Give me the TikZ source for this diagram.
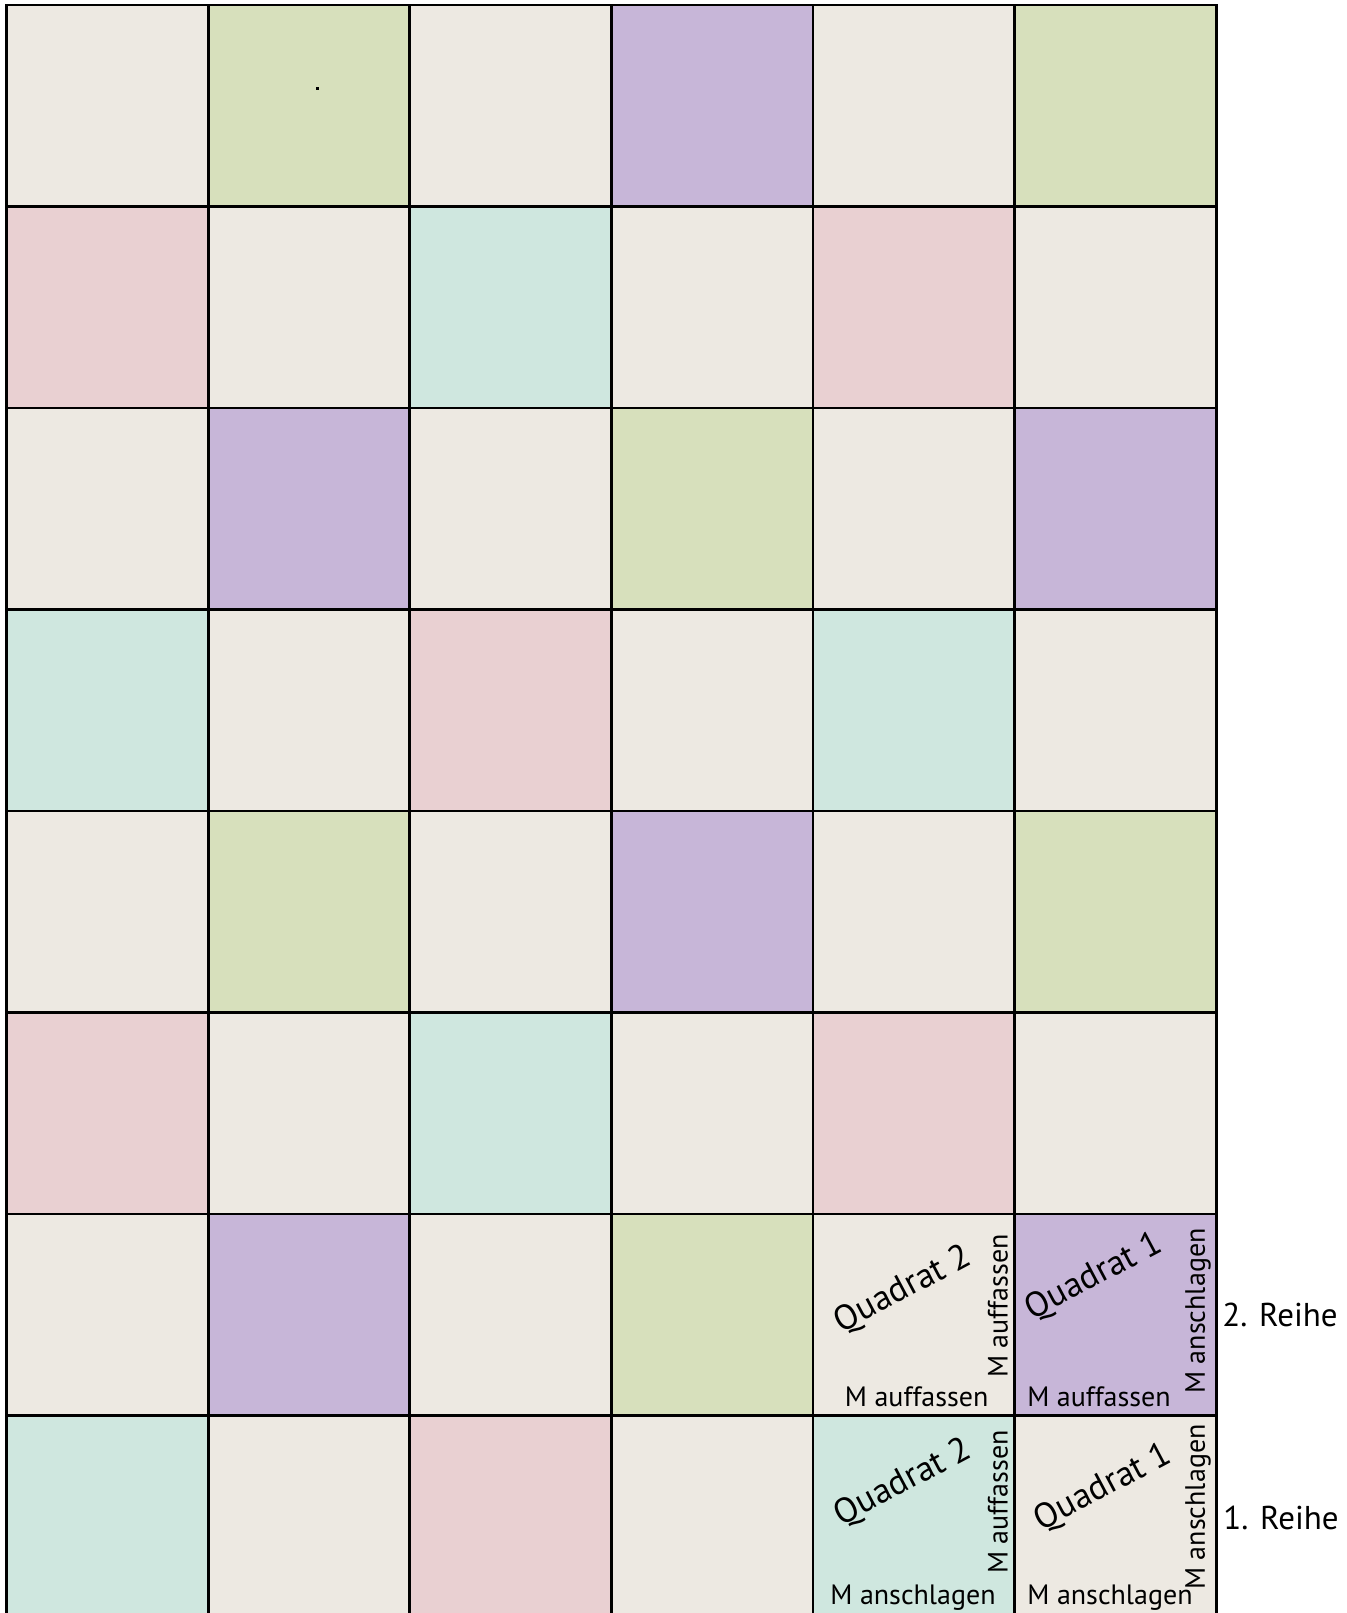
\documentclass[tikz,border=0pt]{standalone}
\usepackage{fontspec}
\setmainfont{PT Sans}
\definecolor{cB}{RGB}{237,233,226}
\definecolor{cG}{RGB}{215,224,188}
\definecolor{cP}{RGB}{199,182,216}
\definecolor{cK}{RGB}{233,208,210}
\definecolor{cT}{RGB}{207,231,223}
\tikzset{
  cellline/.style={line width=2.8pt, draw=black},
  quad/.style={font=\fontsize{35}{37}\selectfont, inner sep=0pt, rotate=28},
  mlab/.style={font=\fontsize{28}{30}\selectfont, inner sep=0pt},
  reihe/.style={font=\fontsize{33}{35}\selectfont, inner sep=0pt},
}
\begin{document}
\begin{tikzpicture}[x=1pt,y=-1pt]
\useasboundingbox (0,0) rectangle (1346,1613);
\clip (0,0) rectangle (1346,1613);
\fill[white] (0,0) rectangle (1346,1613);
\foreach \r/\cols in {0/{cB,cG,cB,cP,cB,cG},1/{cK,cB,cT,cB,cK,cB},2/{cB,cP,cB,cG,cB,cP},3/{cT,cB,cK,cB,cT,cB},4/{cB,cG,cB,cP,cB,cG},5/{cK,cB,cT,cB,cK,cB},6/{cB,cP,cB,cG,cB,cP},7/{cT,cB,cK,cB,cT,cB}}{
  \foreach \c [count=\i from 0] in \cols {
    \fill[\c] ({6.5+\i*201.6},{5+\r*201.5}) rectangle +(201.6,201.5);
  }
}
\foreach \r in {0,...,7}{
  \foreach \i in {0,...,5}{
    \draw[cellline] ({6.5+\i*201.6},{5+\r*201.5}) rectangle +(201.6,201.5);
  }
}
\fill[black] (316,87.5) rectangle +(3,3);
% row 2 (second from bottom)
\node[quad] (q2a) at (903,1290) {Quadrat 2};
\node[mlab, rotate=90] (v2a) at (998,1306) {M auffassen};
\node[mlab] (h2a) at (916.7,1397) {M auffassen};
\node[quad] (q1a) at (1094,1277) {Quadrat 1};
\node[mlab, rotate=90] (v1a) at (1198,1311) {M anschlagen};
\node[mlab] (h1a) at (1099,1397) {M auffassen};
\node[reihe] (r2) at (1280,1315) {2. Reihe};
% bottom row
\node[quad] (q2b) at (903,1483) {Quadrat 2};
\node[mlab, rotate=90] (v2b) at (998,1502) {M auffassen};
\node[mlab] (h2b) at (913,1598) {M anschlagen};
\node[quad] (q1b) at (1103,1488) {Quadrat 1};
\node[mlab, rotate=90] (v1b) at (1198,1507) {M anschlagen};
\node[mlab] (h1b) at (1110,1598) {M anschlagen};
\node[reihe] (r1) at (1281,1518) {1. Reihe};
\end{tikzpicture}
\end{document}
